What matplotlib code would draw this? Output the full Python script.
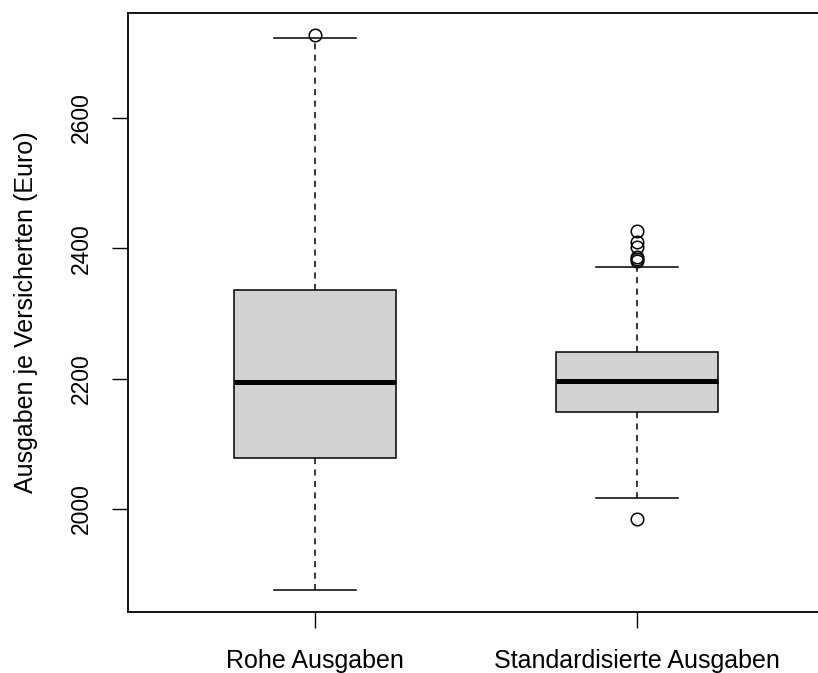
import matplotlib
matplotlib.use("Agg")
import matplotlib.pyplot as plt

plt.rcParams['font.family'] = ['Liberation Sans', 'DejaVu Sans']

# Kennwerte der beiden Boxplots
gruppen = ["Rohe Ausgaben", "Standardisierte Ausgaben"]
unteres_ende = [1876, 2017]
q1 = [2078, 2149]
median = [2195, 2196]
q3 = [2336, 2241]
oberes_ende = [2723, 2371]
ausreisser = [
    [2728],
    [2426, 2410, 2402, 2386, 2383, 2381, 1984],
]

stats = []
for i, name in enumerate(gruppen):
    stats.append({
        'label': name,
        'whislo': unteres_ende[i],
        'q1': q1[i],
        'med': median[i],
        'q3': q3[i],
        'whishi': oberes_ende[i],
        'fliers': ausreisser[i],
    })

fig = plt.figure(figsize=(8.18, 6.73), dpi=100)
# Achsen ragen rechts leicht ueber den Bildrand hinaus (wie im Original)
ax = fig.add_axes([128 / 818, 61 / 673, 696 / 818, 599 / 673])

ax.bxp(
    stats,
    positions=[1, 2],
    widths=0.503,
    patch_artist=True,
    boxprops=dict(facecolor='#d3d3d3', edgecolor='black', linewidth=1.1),
    medianprops=dict(color='black', linewidth=3.6, solid_capstyle='butt'),
    whiskerprops=dict(color='black', linewidth=1.1, linestyle=(0, (4, 3.5))),
    capprops=dict(color='black', linewidth=1.1),
    capwidths=0.255,
    flierprops=dict(marker='o', markerfacecolor='none', markeredgecolor='black',
                    markersize=9, markeredgewidth=1.1),
)

ax.set_xlim(0.42, 2.58)
ax.set_ylim(1842, 2761)
ax.set_yticks([2000, 2200, 2400, 2600])
ax.set_yticklabels(['2000', '2200', '2400', '2600'], rotation=90, va='center')
ax.set_xticks([1, 2])
ax.set_xticklabels(gruppen)
ax.tick_params(axis='both', length=11.5, width=1.0, direction='out')
ax.tick_params(axis='y', labelsize=16.5, pad=14)
ax.tick_params(axis='x', labelsize=18, pad=15)
for s in ax.spines.values():
    s.set_linewidth(1.3)

ax.set_ylabel("Ausgaben je Versicherten (Euro)", fontsize=18, labelpad=23)

fig.savefig("out.png", dpi=100)
